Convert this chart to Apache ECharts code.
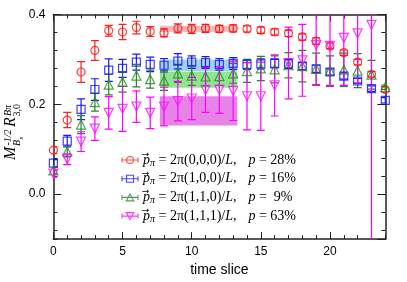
<!DOCTYPE html>
<html><head><meta charset="utf-8">
<script src="https://cdn.jsdelivr.net/npm/echarts@6/dist/echarts.min.js"></script>
<style>html,body{margin:0;padding:0;background:#fff}#c{width:407px;height:282px}</style>
</head><body><div id="c"></div>
<script>
// ---- data ----
const timeSlices = [0,1,2,3,4,5,6,7,8,9,10,11,12,13,14,15,16,17,18,19,20,21,22,23,24];
const redVals  = [0.098,0.165,0.272,0.320,0.364,0.361,0.371,0.362,0.359,0.369,0.368,0.369,0.368,0.369,0.368,0.365,0.361,0.358,0.350,0.341,0.330,0.315,0.294,0.267,0.233];
const redErr   = [0.008,0.017,0.023,0.022,0.012,0.017,0.014,0.011,0.009,0.010,0.010,0.009,0.008,0.008,0.007,0.007,0.007,0.007,0.007,0.007,0.006,0.006,0.006,0.006,0.006];
const blueVals = [0.069,0.118,0.189,0.233,0.276,0.280,0.294,0.289,0.287,0.296,0.294,0.293,0.289,0.291,0.289,0.290,0.291,0.290,0.285,0.279,0.272,0.263,0.252,0.235,0.209];
const blueErr  = [0.008,0.013,0.023,0.024,0.025,0.020,0.018,0.016,0.015,0.017,0.014,0.013,0.013,0.013,0.011,0.011,0.010,0.010,0.008,0.008,0.007,0.007,0.006,0.006,0.006];
const greenVals= [0.053,0.095,0.155,0.205,0.244,0.250,0.264,0.256,0.253,0.269,0.264,0.262,0.263,0.269,0.274,0.280,0.278,0.287,0.285,0.279,0.275,0.277,0.275,0.266,0.238];
const greenErr = [0.008,0.012,0.020,0.020,0.023,0.023,0.025,0.020,0.022,0.020,0.022,0.021,0.021,0.022,0.025,0.027,0.030,0.028,0.035,0.035,0.033,0.037,0.038,0.032,0.005];
const magVals  = [0.046,0.078,0.117,0.146,0.181,0.190,0.195,0.181,0.195,0.207,0.213,0.232,0.232,0.230,0.218,0.218,0.242,0.292,0.298,0.332,0.330,0.348,0.358,0.377,null];
const magErr   = [0.008,0.012,0.022,0.026,0.036,0.050,0.035,0.035,0.043,0.044,0.047,0.050,0.052,0.066,0.075,0.076,0.068,0.080,0.080,0.090,0.090,0.106,0.110,0.600,null];
const bandRange   = [7.7, 13.3];
const bandCenters = [0.368, 0.287, 0.255, 0.1855];
const bandHalf    = [0.007, 0.013, 0.018, 0.0325];
const momenta  = ['(0,0,0)', '(1,0,0)', '(1,1,0)', '(1,1,1)'];
const percents = ['28%', '16%', ' 9%', '63%'];
const yTickLabels = ['0.0', '0.2', '0.4'];

// ---- styles ----
const colors = ['#ff1010', '#1010ff', '#1f8f1f', '#ff10ff'];
const errColors = ['#ff2020', '#1818ff', '#2f7f2f', '#ff00ff'];
const bandColors = ['rgba(248,160,160,0.75)', 'rgba(130,195,240,0.75)', 'rgba(100,215,100,0.7)', 'rgba(225,100,225,0.8)'];
const names = ['s0', 's1', 's2', 's3'];
const symbols = ['circle', 'rect', 'triangle', 'triangle'];
const symbolRot = [0, 0, 0, 180];
const symbolSizes = [8, 8, 9, 9];
const icons = [
  'path://M0,3.5H16M0,1V6M16,1V6M11.5,3.5A3.5,3.5,0,1,1,4.5,3.5A3.5,3.5,0,1,1,11.5,3.5Z',
  'path://M0,3.5H16M0,1V6M16,1V6M4.5,0H11.5V7H4.5Z',
  'path://M0,3.5H16M0,1V6M16,1V6M8,0L11.8,7H4.2Z',
  'path://M0,3.5H16M0,1V6M16,1V6M4.2,0H11.8L8,7Z'
];
const allVals = [redVals, blueVals, greenVals, magVals];
const allErr = [redErr, blueErr, greenErr, magErr];

const chart = echarts.init(document.getElementById('c'), null, {renderer: 'canvas'});

function errRender(color) {
  return function (params, api) {
    const x = api.value(0), y = api.value(1), e = api.value(2);
    const t = api.coord([x, y + e]), b = api.coord([x, y - e]);
    const cx = t[0];
    const cap = 4;
    const st = {stroke: color, lineWidth: 1.2};
    return {type: 'group', children: [
      {type: 'line', shape: {x1: cx, y1: t[1], x2: cx, y2: b[1]}, style: st},
      {type: 'line', shape: {x1: cx - cap, y1: t[1], x2: cx + cap, y2: t[1]}, style: st},
      {type: 'line', shape: {x1: cx - cap, y1: b[1], x2: cx + cap, y2: b[1]}, style: st}
    ]};
  };
}

const series = [];
series.push({
  type: 'custom', z: 1, clip: true, silent: true,
  data: bandCenters.map((c, i) => [bandRange[0], bandRange[1], c, bandHalf[i], i]),
  encode: {x: [0, 1], y: 2},
  renderItem: function (params, api) {
    const i = api.value(4);
    const p1 = api.coord([api.value(0), api.value(2) + api.value(3)]);
    const p2 = api.coord([api.value(1), api.value(2) - api.value(3)]);
    return {type: 'rect', shape: {x: p1[0], y: p1[1], width: p2[0] - p1[0], height: p2[1] - p1[1]},
      style: {fill: bandColors[i]}};
  }
});
for (let k = 0; k < 4; k++) {
  const data = [];
  timeSlices.forEach((t, j) => { if (allVals[k][j] != null) data.push([t, allVals[k][j], allErr[k][j]]); });
  series.push({
    type: 'custom', z: 2, clip: true, silent: true,
    data: data, encode: {x: 0, y: 1},
    renderItem: errRender(errColors[k])
  });
  series.push({
    type: 'scatter', name: names[k], z: 3, clip: false,
    data: data.map(d => [d[0], d[1]]),
    symbol: symbols[k], symbolRotate: symbolRot[k], symbolSize: symbolSizes[k],
    itemStyle: {color: 'rgba(255,255,255,0)', borderColor: colors[k], borderWidth: 1.2},
    emphasis: {disabled: true}
  });
}

const axisLineStyle = {color: '#222', width: 1.5};
function xAx(pos, interval, len, showLine, label) {
  return {
    type: 'value', min: 0, max: 24, interval: interval, position: pos,
    axisLine: {show: showLine, onZero: false, lineStyle: axisLineStyle},
    axisTick: {show: true, inside: true, length: len, lineStyle: {color: '#222', width: 1}},
    axisLabel: label ? {show: true, showMaxLabel: false, fontSize: 12, fontFamily: 'Liberation Sans', color: '#000', margin: 7} : {show: false},
    splitLine: {show: false}
  };
}
function yAx(pos, step, len, showLine, label) {
  return {
    type: 'value', min: -0.1, max: 0.4, minInterval: step, maxInterval: step, position: pos,
    axisLine: {show: showLine, onZero: false, lineStyle: axisLineStyle},
    axisTick: {show: true, inside: true, length: len, lineStyle: {color: '#222', width: 1}},
    axisLabel: label ? {show: true, showMinLabel: false, fontSize: 12, fontFamily: 'Liberation Sans', color: '#000', margin: 8,
      formatter: v => { const s = v.toFixed(1); return yTickLabels.indexOf(s) >= 0 ? s : ''; }} : {show: false},
    splitLine: {show: false}
  };
}
const xAxes = [xAx('bottom', 5, 7, true, true), xAx('bottom', 1, 4, false, false), xAx('top', 5, 7, true, false), xAx('top', 1, 4, false, false)];
xAxes[0].name = 'time slice';
xAxes[0].nameLocation = 'middle';
xAxes[0].nameGap = 23;
xAxes[0].nameTextStyle = {fontSize: 14, fontFamily: 'Liberation Sans', color: '#000'};
const yAxes = [yAx('left', 0.2, 8, true, true), yAx('left', 0.04, 4, false, false), yAx('right', 0.2, 8, true, false), yAx('right', 0.04, 4, false, false)];

const serif = 'Liberation Serif';
const rich = {
  p: {fontFamily: serif, fontStyle: 'italic', fontSize: 14, color: '#000'},
  sub: {fontFamily: serif, fontStyle: 'italic', fontSize: 10, color: '#000', padding: [6, 0, 0, 0]},
  n: {fontFamily: serif, fontSize: 14, color: '#000'},
  gap: {width: 12}
};

// legend rows (layout only)
const legendLeft = 119.5, legendTop = 152, legendRowStep = 18.7, legendTextLeft = legendLeft + 16 + 5;
const arrows = names.map((n, i) => ({
  type: 'text', x: legendTextLeft + 5, y: legendTop + 8 + i * legendRowStep - 5.5,
  style: {text: '\u2192', fontFamily: 'DejaVu Sans', fontSize: 9, fill: '#000', align: 'center', verticalAlign: 'middle'}
}));

const option = {
  animation: false,
  backgroundColor: '#fff',
  grid: {left: 53.4, right: 21.7, top: 14.5, bottom: 42},
  xAxis: xAxes,
  yAxis: yAxes,
  legend: {
    orient: 'vertical', left: legendLeft, top: legendTop, padding: 0, itemWidth: 16, itemHeight: 7, itemGap: 2.7,
    selectedMode: false,
    data: names.map((n, i) => ({name: n, icon: icons[i], itemStyle: {color: 'none', borderColor: errColors[i], borderWidth: 1.1}})),
    formatter: function (name) {
      const i = names.indexOf(name);
      return '{p|p}{sub|\u03C0}{n| = 2\u03C0' + momenta[i] + '/}{p|L}{n|,}{gap|}{p|p}{n| = ' + percents[i] + '}';
    },
    textStyle: {fontSize: 14, lineHeight: 16, rich: rich}
  },
  graphic: arrows.concat([{
    type: 'group', x: 19, y: 160, rotation: Math.PI / 2,
    children: [
      {type: 'text', x: 0, y: 0, style: {text: 'M', fontFamily: serif, fontStyle: 'italic', fontSize: 16, fill: '#000', verticalAlign: 'bottom'}},
      {type: 'text', x: 14.5, y: -6, style: {text: '-1/2', fontFamily: serif, fontStyle: 'italic', fontSize: 10, fill: '#000', verticalAlign: 'bottom'}},
      {type: 'text', x: 14, y: 3.5, style: {text: 'B', fontFamily: serif, fontStyle: 'italic', fontSize: 10, fill: '#000', verticalAlign: 'bottom'}},
      {type: 'text', x: 20.5, y: 5.5, style: {text: 's', fontFamily: serif, fontStyle: 'italic', fontSize: 7, fill: '#000', verticalAlign: 'bottom'}},
      {type: 'text', x: 33, y: 0, style: {text: 'R', fontFamily: serif, fontStyle: 'italic', fontSize: 16, fill: '#000', verticalAlign: 'bottom'}},
      {type: 'text', x: 44, y: -6, style: {text: 'B\u03C0', fontFamily: serif, fontStyle: 'italic', fontSize: 10, fill: '#000', verticalAlign: 'bottom'}},
      {type: 'text', x: 43.5, y: 3.5, style: {text: '3,0', fontFamily: serif, fontSize: 10, fill: '#000', verticalAlign: 'bottom'}}
    ]
  }]),
  series: series
};
chart.setOption(option);
</script>
</body></html>
